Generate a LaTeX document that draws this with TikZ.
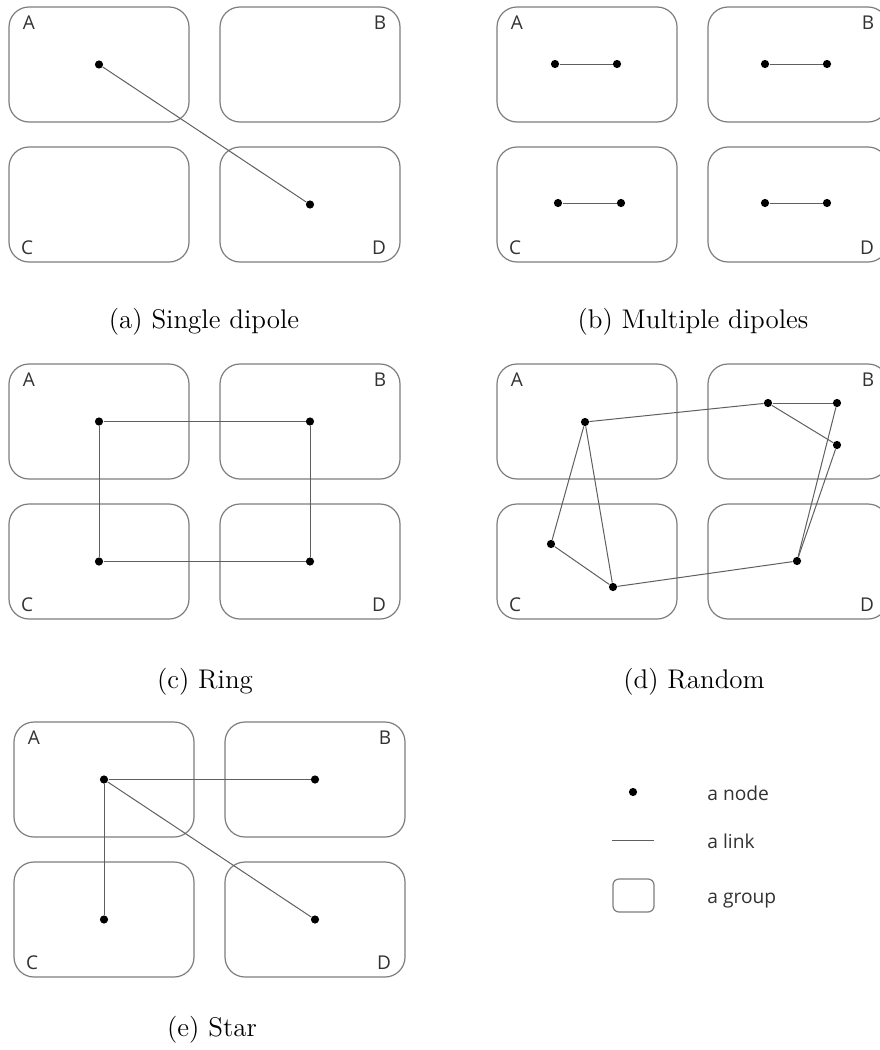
\documentclass[tikz,border=0pt]{standalone}
\usepackage{fontspec}
\newfontfamily\labfont{Open Sans}
\definecolor{boxgray}{RGB}{125,125,125}
\definecolor{linkgray}{RGB}{95,95,95}
\definecolor{labgray}{RGB}{50,50,50}
\tikzset{
  grp/.style={draw=boxgray, line width=0.6pt, rounded corners=10pt, minimum width=90pt, minimum height=57.5pt, inner sep=0pt},
  dot/.style={circle, fill=black, inner sep=0pt, minimum size=4.1pt},
  link/.style={draw=linkgray, line width=0.5pt},
  lab/.style={font=\labfont\fontsize{9.5}{11}\selectfont, text=labgray, inner sep=0pt},
  legtext/.style={font=\labfont\fontsize{9.6}{11}\selectfont, text=labgray, inner sep=0pt, anchor=base west},
  captext/.style={font=\fontsize{13.5}{16}\selectfont, inner sep=0pt}
}
% #1 prefix, #2 left x, #3 top y
\newcommand\groupquad[3]{%
  \node[grp] (#1A) at ({#2+90},{#3+57.5}) {};
  \node[grp] (#1B) at ({#2+301},{#3+57.5}) {};
  \node[grp] (#1C) at ({#2+90},{#3+197.5}) {};
  \node[grp] (#1D) at ({#2+301},{#3+197.5}) {};
  \node[lab] (#1la) at ({#2+20},{#3+16}) {A};
  \node[lab] (#1lb) at ({#2+371},{#3+16}) {B};
  \node[lab] (#1lc) at ({#2+18},{#3+241}) {C};
  \node[lab] (#1ld) at ({#2+370},{#3+241}) {D};
}
\begin{document}
\begin{tikzpicture}[x=0.5pt, y=-0.5pt]
\useasboundingbox (0,0) rectangle (879,1050);

% (a) Single dipole
\groupquad{pa}{9}{7}
\node[dot] (a1) at (paA.center) {};
\node[dot] (a2) at (paD.center) {};
\draw[link] (a1) -- (a2);
\node[captext] (capa) at (204,322) {(a)\ Single dipole};

% (b) Multiple dipoles
\groupquad{pb}{497}{7}
\node[dot] (b1) at (555,64) {};
\node[dot] (b2) at (617,64) {};
\node[dot] (b3) at (765,64) {};
\node[dot] (b4) at (827,64) {};
\node[dot] (b5) at (558,203) {};
\node[dot] (b6) at (621,203) {};
\node[dot] (b7) at (765,203) {};
\node[dot] (b8) at (827,203) {};
\draw[link] (b1) -- (b2);
\draw[link] (b3) -- (b4);
\draw[link] (b5) -- (b6);
\draw[link] (b7) -- (b8);
\node[captext] (capb) at (693,322) {(b)\ Multiple dipoles};

% (c) Ring
\groupquad{pc}{9}{364}
\node[dot] (c1) at (pcA.center) {};
\node[dot] (c2) at (pcB.center) {};
\node[dot] (c3) at (pcD.center) {};
\node[dot] (c4) at (pcC.center) {};
\draw[link] (c1) -- (c2) -- (c3) -- (c4) -- (c1);
\node[captext] (capc) at (205,682) {(c)\ Ring};

% (d) Random
\groupquad{pd}{497}{364}
\node[dot] (d1) at (585,422) {};
\node[dot] (d2) at (768,403) {};
\node[dot] (d3) at (837,403) {};
\node[dot] (d4) at (837,445) {};
\node[dot] (d5) at (551,544) {};
\node[dot] (d6) at (613,587) {};
\node[dot] (d7) at (797,561) {};
\draw[link] (d1) -- (d2);
\draw[link] (d2) -- (d3);
\draw[link] (d2) -- (d4);
\draw[link] (d3) -- (d7);
\draw[link] (d4) -- (d7);
\draw[link] (d1) -- (d5);
\draw[link] (d1) -- (d6);
\draw[link] (d5) -- (d6);
\draw[link] (d6) -- (d7);
\node[captext] (capd) at (694,682) {(d)\ Random};

% (e) Star
\groupquad{pe}{14}{722}
\node[dot] (e1) at (peA.center) {};
\node[dot] (e2) at (peB.center) {};
\node[dot] (e3) at (peC.center) {};
\node[dot] (e4) at (peD.center) {};
\draw[link] (e1) -- (e2);
\draw[link] (e1) -- (e3);
\draw[link] (e1) -- (e4);
\node[captext] (cape) at (212,1030) {(e)\ Star};

% Legend
\node[dot] (ldot) at (633,792) {};
\node[legtext] (ltn) at (707,800) {a node};
\coordinate (ll1) at (612,840);
\coordinate (ll2) at (654,840);
\draw[link] (ll1) -- (ll2);
\node[legtext] (ltl) at (707,848) {a link};
\node[draw=boxgray, line width=0.6pt, rounded corners=3pt, minimum width=20.5pt, minimum height=16.5pt, inner sep=0pt] (lgrp) at (633.5,895.5) {};
\node[legtext] (ltg) at (707,903) {a group};
\end{tikzpicture}
\end{document}
